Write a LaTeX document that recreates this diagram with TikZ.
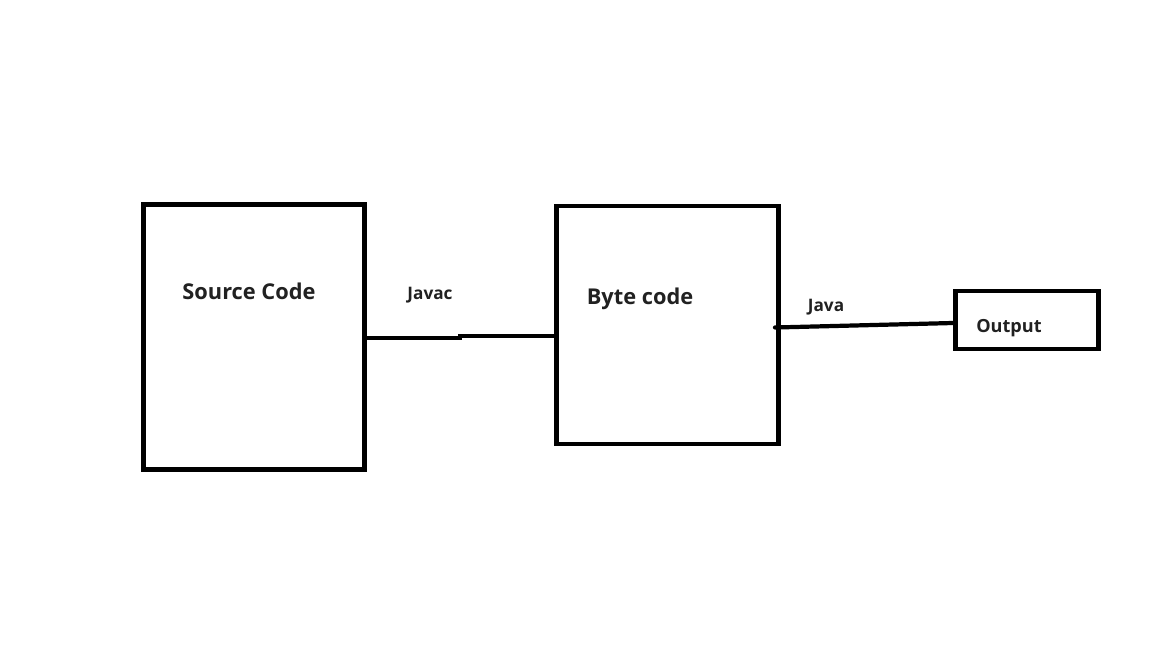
\documentclass[tikz,border=0pt]{standalone}
\usepackage{fontspec}
\setmainfont{Open Sans}
\begin{document}
\begin{tikzpicture}[x=0.02cm,y=-0.02cm,
  box/.style={draw=black,line width=2.8pt,inner sep=0pt,rectangle},
  conn/.style={draw=black,line width=2.4pt},
  bigtxt/.style={font=\fontsize{12.4}{14}\selectfont\bfseries,text=black!87,anchor=base,inner sep=0pt},
  smalltxt/.style={font=\fontsize{9.8}{11}\selectfont\bfseries,text=black!87,anchor=base,inner sep=0pt},
  midtxt/.style={font=\fontsize{10.3}{12}\selectfont\bfseries,text=black!87,anchor=base,inner sep=0pt}]
\fill[white] (0,0) rectangle (1152,648);
\useasboundingbox (0,0) rectangle (1152,648);
% boxes
\node[box,minimum width=221*0.02cm,minimum height=265*0.02cm] (src) at (254,337) {};
\node[box,minimum width=222*0.02cm,minimum height=238*0.02cm] (byte) at (667.5,325) {};
\node[box,minimum width=143*0.02cm,minimum height=58*0.02cm] (out) at (1027,320) {};
% texts
\node[bigtxt] (srct) at (249,299) {Source Code};
\node[bigtxt] (bytet) at (640,305) {Byte code};
\node[smalltxt] (javac) at (430,299) {Javac};
\node[smalltxt] (java) at (826,312) {Java};
\node[midtxt] (outt) at (1009,333) {Output};
% connectors
\coordinate (k1) at (460,338);
\coordinate (k2) at (460,336);
\coordinate (b2in) at (byte.west |- k2);
\coordinate (b2out) at (775,327.5);
\coordinate (o3in) at (out.west |- 0,323);
\draw[conn] (src.east |- k1) -- (k1) -- (k2) -- (b2in);
\draw[conn,line cap=round] (b2out) -- (o3in);
\end{tikzpicture}
\end{document}
